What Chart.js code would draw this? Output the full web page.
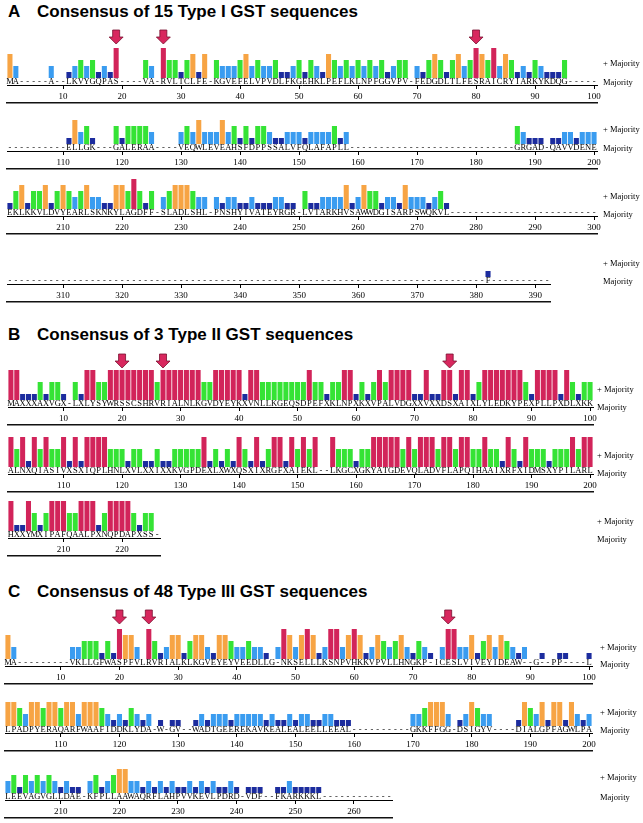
<!DOCTYPE html>
<html>
<head>
<meta charset="utf-8">
<script src="https://cdn.jsdelivr.net/npm/chart.js@4.4.1/dist/chart.umd.min.js"></script>
<style>
  body { margin: 0; background: #fff; }
  #page { position: relative; width: 643px; height: 823px; overflow: hidden; }
  canvas { position: absolute; }
  .title { position: absolute; font: bold 17px "Liberation Sans", Arial, sans-serif; color: #000; line-height: 20px; white-space: nowrap; }
  .lab { position: absolute; font: 8.5px "Liberation Serif", "Times New Roman", serif; color: #000; line-height: 10px; white-space: nowrap; }
</style>
</head>
<body>
<div id="page"></div>
<script>
/* score levels: 0 none, 1 dark blue, 2 light blue, 3 green, 4 orange, 5 crimson */
const levelColors = [null, '#1c2c9e', '#3a9cf0', '#35e335', '#f7a444', '#d2245a'];

/* ---- A: 15 Type I ---- */
const a1Seq = "MA-----A--LKVYGQPAS----VA-RVLTCLFE-KGVEFELVPVDLFKGEHKLPEFLKLNPFGGVPV-FEDGDLTLFESRAICRYIARKYKDQG-----";
const a1Scores = [4,2,0,0,0,0,0,2,0,0, 1,2,3,2,3,1,2,1,5,0, 0,0,0,3,2,0,5,3,3,1,
  3,4,1,4,0,3,2,2,2,3, 4,2,3,2,2,3,1,1,2,3, 1,3,2,1,4,3,2,3,2,3, 2,3,2,3,1,2,3,3,0,2,
  1,3,4,3,1,3,4,2,3,5, 4,3,5,2,4,3,1,2,1,3, 2,1,1,1,3,0,0,0,0,0];
const a1Ticks = [10,20,30,40,50,60,70,80,90,100];
const a1Arrows = [19,27,80];

const a2Seq = "----------ELLGK---GALERAA----VEQWLEVEAHSFDPPSSALVFQLAFAPLL----------------------------GRGAD-QAVVDENE";
const a2Scores = [0,0,0,0,0,0,0,0,0,0, 1,4,2,3,1,0,0,0,3,1, 3,3,3,3,2,0,0,0,0,2,
  3,2,4,2,2,2,4,2,3,1, 3,1,3,3,2,1,1,2,2,2, 1,2,2,2,2,3,1,2,0,0, 0,0,0,0,0,0,0,0,0,0,
  0,0,0,0,0,0,0,0,0,0, 0,0,0,0,0,0,3,2,1,1, 1,0,1,1,2,2,1,2,2,2];
const a2Ticks = [110,120,130,140,150,160,170,180,190,200];

const a3Seq = "EKLKKVLDVYEARLSKNKYLAGDFF-SLADLSHL-PNSHYIVATEYRGR-LVTARKHVSAWWDGISARPSWQKVL-------------------------";
const a3Scores = [1,3,4,1,3,3,4,1,3,4, 3,2,3,4,2,2,1,1,4,4, 3,5,3,1,3,0,2,3,4,4,
  4,3,2,2,0,2,1,2,2,1, 1,2,1,1,1,2,2,1,1,0, 3,1,1,2,2,2,2,4,1,2, 4,3,3,1,2,2,1,4,2,2,
  2,1,2,3,1,0,0,0,0,0, 0,0,0,0,0,0,0,0,0,0, 0,0,0,0,0,0,0,0,0,0];
const a3Ticks = [210,220,230,240,250,260,270,280,290,300];

const a4Seq = "---------------------------------------------------------------------------------F----------";
const a4Scores = [0,0,0,0,0,0,0,0,0,0, 0,0,0,0,0,0,0,0,0,0, 0,0,0,0,0,0,0,0,0,0,
  0,0,0,0,0,0,0,0,0,0, 0,0,0,0,0,0,0,0,0,0, 0,0,0,0,0,0,0,0,0,0, 0,0,0,0,0,0,0,0,0,0,
  0,0,0,0,0,0,0,0,0,0, 0,1,0,0,0,0,0,0,0,0, 0,0];
const a4Ticks = [310,320,330,340,350,360,370,380,390];

/* ---- B: 3 Type II ---- */
const b1Seq = "MAXXXAXVGX-LXLYSYWRSSCSHRVRIALNLKGVDYEYKXVNLLKGEQSDPEFXKLNPXKXVPALVDGXXVXXDSXAIXLYLEDKYPEXPLLPXDLXKK";
const b1Scores = [5,5,1,1,1,3,1,3,3,1, 0,3,1,5,5,3,3,5,5,5, 5,5,5,5,5,3,5,5,5,5,
  5,5,5,3,3,5,5,5,5,5, 1,5,5,3,3,3,3,3,3,3, 3,5,3,3,1,3,3,5,5,1, 3,1,3,5,3,5,5,5,5,1,
  1,5,1,1,5,5,1,5,5,1, 3,5,5,5,5,5,5,5,3,1, 5,5,5,5,1,5,3,1,3,3];
const b1Ticks = [10,20,30,40,50,60,70,80,90,100];
const b1Arrows = [20,27,76];

const b2Seq = "ALNXQIASIVXSXIQPLHNLXVLXXIXXKVGPDEXLXWXQSXIXRGFXAIEKL--LKGCXGKYATGDEVQLADVFLAPQIHAAIXRFXIDMSXYPILARL";
const b2Scores = [5,3,5,1,5,3,5,3,3,5, 1,5,1,5,5,5,5,3,3,3, 1,3,3,1,1,3,1,1,3,3,
  3,3,3,5,1,3,1,3,1,5, 3,1,5,1,3,5,5,1,5,3, 5,3,5,0,0,5,3,3,3,1, 3,3,5,5,5,5,5,3,5,3,
  5,5,5,3,5,5,3,5,5,3, 3,5,3,3,1,5,3,1,5,3, 3,3,1,3,3,3,5,3,5,5];
const b2Ticks = [110,120,130,140,150,160,170,180,190,200];

const b3Seq = "HXXYMXIPAFQAALPXNQPDAPXSS-";
const b3Scores = [5,1,1,5,3,1,3,5,5,5, 3,3,5,5,5,1,3,5,5,5, 5,3,1,3,3,0];
const b3Ticks = [210,220];

/* ---- C: 48 Type III ---- */
const c1Seq = "MA---------VKLLGFWASPFVLRVRIALKLKGVEYEYVEEDLLG-NKSELLLKSNPVHKKVPVLLHNGKP-ICESLVIVEYIDEAW--G--PP----L";
const c1Scores = [4,2,0,0,0,0,0,0,0,0, 0,2,2,3,3,3,1,3,1,5, 4,4,2,0,5,3,1,2,4,4,
  1,3,4,4,2,1,4,4,3,2, 2,3,2,2,1,0,2,5,4,2, 4,5,4,1,2,5,5,2,4,5, 4,1,2,4,3,2,3,4,2,1,
  3,2,1,0,2,5,5,2,2,4, 1,3,4,2,4,3,2,1,2,0, 0,1,0,0,1,1,0,0,0,1];
const c1Ticks = [10,20,30,40,50,60,70,80,90,100];
const c1Arrows = [20,25,76];

const c2Seq = "LPADPYERAQARFWAAFIDDKLYDA-W-GV--WADTGEEREKAVKEALEALEELLEEAL----------GKKFFGG-DSIGYV----DIALGPFAGWLPA";
const c2Scores = [4,4,3,2,4,4,3,4,4,3, 4,4,2,4,4,4,3,2,1,2, 1,3,2,1,2,0,1,0,1,1,
  0,0,1,2,1,2,2,2,1,2, 2,2,2,2,1,2,1,1,2,1, 2,2,1,1,2,2,1,1,1,0, 0,0,0,0,0,0,0,0,0,2,
  2,3,4,4,4,2,0,1,2,4, 3,2,2,0,0,0,0,1,4,3, 2,4,1,4,4,1,4,2,1,2];
const c2Ticks = [110,120,130,140,150,160,170,180,190,200];

const c3Seq = "LEEVAGVGLLDAE-KFPLLAAWAQRFLAHPVVKEVLPDRD-VDF--FKARKKKL------------";
const c3Scores = [2,3,1,3,2,3,2,3,2,1, 2,1,1,0,2,3,1,2,3,4, 4,2,2,1,2,1,2,1,2,1,
  1,2,1,2,1,2,1,1,2,1, 0,1,1,1,0,0,1,1,2,1, 1,1,1,1,0,0,0,0,0,0, 0,0,0,0,0,0];
const c3Ticks = [210,220,230,240,250,260];

/* row layout: x0 = pixel of position 0.5, step = px per residue, base = bar baseline */
const rows = [
  {seq:a1Seq, scores:a1Scores, ticks:a1Ticks, start:0,   arrows:a1Arrows, gap:4, x0:7.0, step:5.9,  base:77,  lx:603, py:63,  my:82},
  {seq:a2Seq, scores:a2Scores, ticks:a2Ticks, start:100, arrows:[], gap:4,       x0:7.0, step:5.9,  base:143, lx:603, py:129, my:148},
  {seq:a3Seq, scores:a3Scores, ticks:a3Ticks, start:200, arrows:[], gap:4,       x0:7.0, step:5.9,  base:208, lx:603, py:196, my:214},
  {seq:a4Seq, scores:a4Scores, ticks:a4Ticks, start:300, arrows:[], gap:4,       x0:7.0, step:5.9,  base:276, lx:603, py:263, my:281},
  {seq:b1Seq, scores:b1Scores, ticks:b1Ticks, start:0,   arrows:b1Arrows, gap:2, x0:7.5, step:5.845, base:399, lx:597, py:389, my:407},
  {seq:b2Seq, scores:b2Scores, ticks:b2Ticks, start:100, arrows:[], gap:2,       x0:7.5, step:5.845, base:466, lx:597, py:455, my:473},
  {seq:b3Seq, scores:b3Scores, ticks:b3Ticks, start:200, arrows:[], gap:2,       x0:7.5, step:5.845, base:530, lx:597, py:521, my:539},
  {seq:c1Seq, scores:c1Scores, ticks:c1Ticks, start:0,   arrows:c1Arrows, gap:5, x0:4.5, step:5.87, base:658, lx:600, py:647, my:664},
  {seq:c2Seq, scores:c2Scores, ticks:c2Ticks, start:100, arrows:[], gap:5,       x0:4.5, step:5.87, base:725, lx:600, py:712, my:730},
  {seq:c3Seq, scores:c3Scores, ticks:c3Ticks, start:200, arrows:[], gap:5,       x0:4.5, step:5.87, base:792, lx:600, py:777, my:797}
];

const titles = [
  {letter:'A', text:'Consensus of 15 Type I GST sequences', y:2},
  {letter:'B', text:'Consensus of 3 Type II GST sequences', y:325},
  {letter:'C', text:'Consensus of 48 Type III GST sequences', y:582}
];

const page = document.getElementById('page');
const serif = '"Liberation Serif", "Times New Roman", serif';

// red arrows pointing at the catalytic residues
const arrowPlugin = {
  id: 'arrows',
  afterDatasetsDraw(chart, args, opts) {
    if (!opts.at || !opts.at.length) return;
    const xs = chart.scales.x, ys = chart.scales.y, ctx = chart.ctx;
    const tip = ys.getPixelForValue(5) - opts.gap;
    ctx.save();
    ctx.fillStyle = '#d8275e';
    ctx.strokeStyle = '#7a1030';
    ctx.lineWidth = 0.8;
    for (const p of opts.at) {
      const x = xs.getPixelForValue(p - 1);
      ctx.beginPath();
      ctx.moveTo(x - 3.5, tip - 14);
      ctx.lineTo(x + 3.5, tip - 14);
      ctx.lineTo(x + 3.5, tip - 7);
      ctx.lineTo(x + 7, tip - 7);
      ctx.lineTo(x, tip);
      ctx.lineTo(x - 7, tip - 7);
      ctx.lineTo(x - 3.5, tip - 7);
      ctx.closePath();
      ctx.fill();
      ctx.stroke();
    }
    ctx.restore();
  }
};

function addRow(r) {
  const n = r.seq.length;
  const padTop = 40, plotH = 29;
  const w = Math.round(n * r.step + 20);
  const h = padTop + plotH + 7 + 18 + 5;
  const cv = document.createElement('canvas');
  cv.width = w; cv.height = h;
  cv.style.width = w + 'px'; cv.style.height = h + 'px';
  cv.style.left = (r.x0 - 10) + 'px';
  cv.style.top = (r.base - plotH - padTop) + 'px';
  page.appendChild(cv);

  new Chart(cv, {
    type: 'bar',
    data: {
      labels: r.seq.split(''),
      datasets: [{
        data: r.scores.map(v => v || null),
        backgroundColor: r.scores.map(v => levelColors[v] || 'rgba(0,0,0,0)'),
        borderWidth: 0,
        barPercentage: 0.86,
        categoryPercentage: 1
      }]
    },
    options: {
      responsive: false,
      animation: false,
      events: [],
      layout: { padding: { left: 10, right: 10, top: padTop, bottom: 0 } },
      plugins: {
        legend: { display: false },
        tooltip: { enabled: false },
        arrows: { at: r.arrows, gap: r.gap }
      },
      scales: {
        y: { display: false, min: 0, max: 5 },
        x: {
          type: 'category', position: 'bottom', weight: 0,
          grid: { display: false, drawTicks: false },
          border: { display: false },
          ticks: { autoSkip: false, maxRotation: 0, minRotation: 0, padding: 0, color: '#000',
                   font: { family: serif, size: 8.5, lineHeight: 0.8 } },
          afterFit: s => { s.height = 7; }
        },
        ruler: {
          type: 'linear', position: 'bottom', weight: 1, offset: false,
          min: r.start + 0.5, max: r.start + n + 0.5,
          afterBuildTicks: s => { s.ticks = r.ticks.map(v => ({ value: v })); },
          grid: { display: true, offset: false, drawOnChartArea: false, drawTicks: true, tickLength: 4, color: '#000', lineWidth: 1 },
          border: { display: true, color: '#000', width: 1 },
          ticks: { color: '#000', padding: 2, font: { family: serif, size: 9 } },
          afterFit: s => { s.height = 18; }
        },
        base: {
          type: 'linear', position: 'bottom', weight: 2, offset: false,
          min: r.start + 0.5, max: r.start + n + 0.5,
          ticks: { display: false },
          grid: { display: false, offset: false, drawTicks: false },
          border: { display: true, color: '#111', width: 1.5 },
          afterFit: s => { s.height = 4; }
        }
      }
    },
    plugins: [arrowPlugin]
  });

  for (const [txt, y] of [['+ Majority', r.py], ['Majority', r.my]]) {
    const d = document.createElement('div');
    d.className = 'lab';
    d.textContent = txt;
    d.style.left = r.lx + 'px';
    d.style.top = (y - 5) + 'px';
    page.appendChild(d);
  }
}

for (const t of titles) {
  const a = document.createElement('div');
  a.className = 'title'; a.textContent = t.letter;
  a.style.left = '8px'; a.style.top = t.y + 'px';
  page.appendChild(a);
  const b = document.createElement('div');
  b.className = 'title'; b.textContent = t.text;
  b.style.left = '37px'; b.style.top = t.y + 'px';
  page.appendChild(b);
}

rows.forEach(addRow);
</script>
</body>
</html>
